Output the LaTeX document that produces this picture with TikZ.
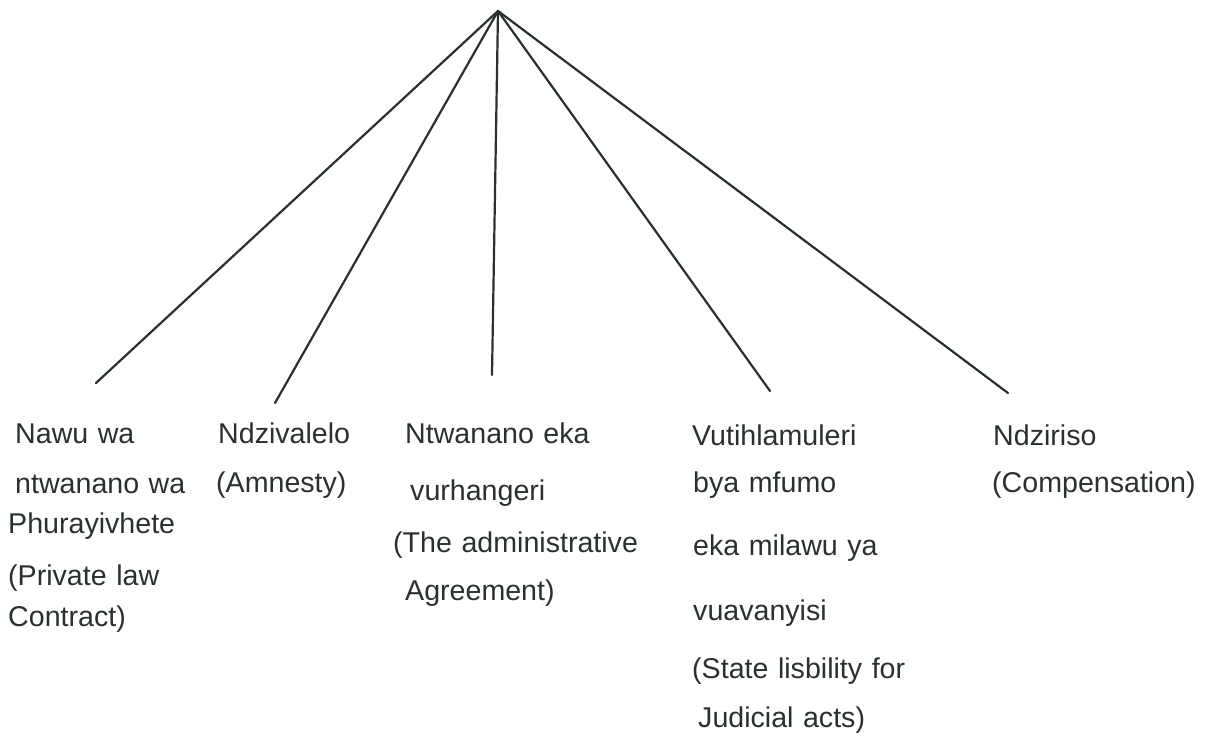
\documentclass[tikz,border=0pt]{standalone}
\usepackage{fontspec}
\setmainfont{Liberation Sans}
\usetikzlibrary{positioning}
\definecolor{ink}{HTML}{2A312D}

\begin{document}
\begin{tikzpicture}[x=1pt,y=-1pt,
  branch/.style={ink,line width=2.2pt,line cap=round},
  leaf/.style={anchor=base west,inner sep=0pt,text width=300pt,align=left,text=ink,font=\fontsize{28.6}{46}\selectfont}]
  \useasboundingbox (0,0) rectangle (1209,737);
  \coordinate (top) at (498,11);
  \coordinate (contractend) at (96,383);
  \coordinate (amnestyend) at (275,403);
  \coordinate (agreementend) at (492,375);
  \coordinate (liabilityend) at (770,391);
  \coordinate (compensationend) at (1008,393);
  \node[leaf](contract) at (8,443) {\hspace*{7pt}Nawu wa\\[4pt]\hspace*{7pt}ntwanano wa\\[-6pt]Phurayivhete\\[6pt](Private law\\[-5pt]Contract)};
  \node[leaf](amnesty) at (216,443) {\hspace*{2pt}Ndzivalelo\\[3pt](Amnesty)};
  \node[leaf](agreement) at (393,443) {\hspace*{12pt}Ntwanano eka\\[11pt]\hspace*{17pt}vurhangeri\\[6pt](The administrative\\[2pt]\hspace*{12pt}Agreement)};
  \node[leaf](liability) at (692,445) {Vutihlamuleri\\[1pt]\hspace*{1pt}bya mfumo\\[17pt]\hspace*{1pt}eka milawu ya\\[19pt]\hspace*{1pt}vuavanyisi\\[12pt](State lisbility for\\[3pt]\hspace*{6pt}Judicial acts)};
  \node[leaf](compensation) at (992,445) {\hspace*{1pt}Ndziriso\\[1pt](Compensation)};
  \draw[branch] (top) -- (contractend);
  \draw[branch] (top) -- (amnestyend);
  \draw[branch] (top) -- (agreementend);
  \draw[branch] (top) -- (liabilityend);
  \draw[branch] (top) -- (compensationend);
\end{tikzpicture}
\end{document}
